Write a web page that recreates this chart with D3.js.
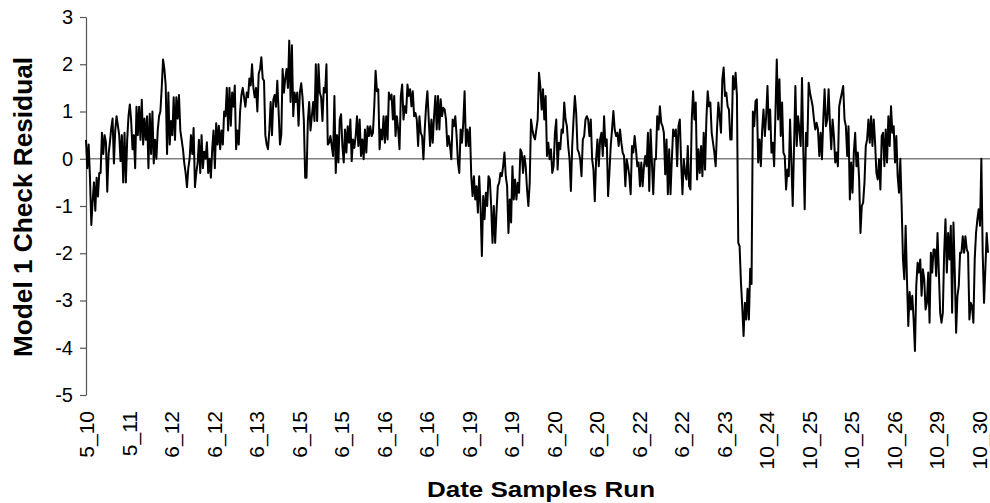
<!DOCTYPE html>
<html>
<head>
<meta charset="utf-8">
<script src="https://cdn.jsdelivr.net/npm/d3@7"></script>
<style>
  html, body { margin: 0; padding: 0; background: #fff; }
  svg { display: block; font-family: "Liberation Sans", Arial, sans-serif; }
</style>
</head>
<body>
<svg id="chart" width="990" height="503"></svg>
<script>
// ---- Data ----
const residuals = [
  // 5_10 .. 6_15
  0.4, -0.2, 0.3, -0.4, -1.4, -0.9, -0.5, -1.1, -0.4, -0.8,
  -0.3, -0.3, 0.55, 0.1, 0.5, 0.35, -0.7, 0.1, 0.35, 0.65,
  0.85, -0.1, 0.6, 0.9, 0.7, 0.5, -0.05, 0.5, -0.5, 0.55,
  -0.5, 0.4, 0.9, 1.15, 0.8, 0.2, 0.5, -0.2, 1.1, 0.5,
  1.1, 0.4, 1.25, 0.3, 0.85, 0.4, 0.9, -0.2, 0.95, 0.1,
  1.0, -0.1, 0.4, 0.0, 0.6, 0.9, 1.0, 1.5, 2.1, 1.9,
  1.55, 0.1, 1.4, 0.3, 0.8, 0.5, 1.3, 0.4, 1.3, 0.85,
  1.35, 0.6, 0.4, 0.2, -0.1, -0.3, -0.6, -0.2, 0.0, 0.5,
  0.1, 0.65, -0.6, -0.3, -0.1, 0.4, -0.3, 0.5, -0.2, 0.15,
  0.0, 0.35, -0.3, 0.0, -0.4, 0.2, 0.6, -0.2, 0.75, 0.3,
  0.7, 0.2, 0.6, 0.3, 1.0, 0.9, 1.5, 0.6, 1.5, 0.7,
  1.4, 1.1, 1.55, 0.2, 0.6, 0.3, 1.0, 1.35, 1.5, 1.3,
  1.1, 1.4, 1.3, 1.7, 1.55, 2.0, 1.5, 1.3, 1.5, 1.0,
  1.8, 1.9, 2.15, 1.7, 1.65, 0.5, 0.3, 0.2, 0.6, 1.2,
  0.5, 1.25, 1.35, 1.1, 1.65, 1.0, 0.3, 0.5, 1.9, 1.4,
  1.7, 1.9, 1.5, 2.5, 1.2, 2.4, 0.9, 1.4, 1.2, 1.4,
  0.7, 1.4, 1.6, 1.3, 0.8, -0.4, -0.4, 0.8, 1.2, 0.6,
  0.9, 1.2, 0.8, 2.0, 0.8, 2.0, 1.4, 1.3, 0.8, 1.5,
  1.4, 2.0, 0.3,
  // 6_15 .. 6_20
  0.34, 0.48, 0.27, 0.06, 1.33, -0.3, 0.5, -0.08, 0.83, 0.94,
  0.27, -0.08, 0.62, 0.13, 0.69, 0.34, 0.83, -0.05, 0.41, 0.23,
  0.48, 0.9, 0.27, 0.83, 0.06, 0.41, -0.01, 0.62, 0.13, 0.69,
  0.48, 0.69, 0.48, 0.55, 1.11, 1.86, 1.43, 1.47, 0.2, 0.62,
  0.41, 0.9, 0.34, 0.9, 0.41, 1.4, 1.26, 1.36, 0.83, 1.33,
  0.48, 0.9, 0.62, 0.2, 1.33, 1.57, 0.83, 1.11, 0.97, 1.57,
  1.33, 1.47, 1.11, 1.43, 0.9, 0.97, 0.83, 0.27, 0.9, 0.55,
  0.48, -0.01, 0.62, 1.11, 1.43, 0.83, 0.27, 0.83, 0.34, 0.9,
  1.33, 0.62, 1.33, 0.62, 1.26, 0.9, 1.08, 1.04, 0.83, 0.27,
  0.48, 0.27, -0.01, 0.83, 0.69, 0.9, 0.48, -0.08, -0.3, 0.62,
  0.34, 0.76, 1.43, 0.27, 0.62, 0.27, 0.66, -0.37, -0.79, -0.37,
  -0.86, -0.58, -1.14, -0.37, -1.0, -2.06, -0.79, -1.28, -0.72, -1.0,
  -0.37, -0.44, -1.0, -1.78, -1.0, -1.78, -1.14, -0.58, -0.51, -0.3,
  -0.37, -0.16, 0.13, -0.37, -0.58, -1.57, -0.86, -1.35, -0.16, -0.86,
  -0.44, -0.86, -0.51, -0.72, 0.2, 0.13, -0.3, 0.06, -0.16, -0.65,
  -1.0, -0.51, 0.83, 0.62, 0.48,
  // 6_20 .. 6_23
  0.41, 0.62, 0.83, 1.82, 1.54, 1.04, 1.47, 0.83, 1.33, 0.06,
  0.34, -0.01, 0.2, -0.3, -0.16, 0.55, 0.83, -0.23, 0.34, 0.2,
  0.62, 0.55, 1.19, 0.83, 0.69, 0.27, -0.01, -0.68, 0.27,
  0.83, 1.33, 0.97, 0.2, 0.13, -0.01, -0.37, 0.41, 0.48,
  0.83, 0.9, 0.83, 0.48, 0.83, -0.01, -0.23, -0.9, -0.01, 0.41,
  -0.16, 0.41, 0.55, 0.06, 0.9, 0.27, 0.41, -0.79, -0.3, 0.27,
  0.62, 1.01, 0.62, 0.48, 0.55, 0.27, 0.62, 0.34,
  0.13, 0.06, -0.58, -0.01, -0.16, -0.37, -0.75, 0.27, 0.13, 0.48,
  0.2, -0.16, -0.08, -0.58, -0.08, -0.58, -0.16, 0.06, -0.16,
  0.55, -0.68, 0.62, -0.08, -0.75, -0.01, -0.01, 0.9, 0.62, 1.11,
  0.76, 0.69, 0.55, -0.33, 0.41, -0.75, 0.2, -0.75, -0.01, 0.62,
  0.48, 0.62, -0.16, 0.69, 0.83, -0.08, -0.75, -0.01, -0.3,
  -0.44, 0.27, -0.58, -0.65, 0.83, 1.43, 0.83, 1.19, -0.44, 0.2,
  -0.3, 0.27, -0.37, 0.55, -0.23, 0.83, 1.43, 1.11, 1.19, 0.55,
  0.34, 0.13, -0.16, 0.62, 1.19, 0.9, 0.55, 1.68, 1.93, 1.33,
  1.4, 1.11, 1.04, 0.41, 0.41, 1.75, 1.47, 1.82, 1.33,
  // dip at 6_23
  -1.78, -1.85, -2.6, -3.13, -3.75, -3.05, -3.4, -2.75, -3.4, -2.33, -2.65,
  // 10_24 .. 10_26
  1.0, 0.69, 1.22, 1.26, -0.08, 0.41, -0.16, 0.62,
  1.04, 0.48, 0.9, 1.54, 0.62, 1.04, 0.13, 0.34,
  -0.16, 0.97, 2.1, 0.83, 1.68, 0.48, 1.19, 0.13,
  0.06, -0.65, -0.23, -0.37, 0.83, -0.08, -1.0, 0.27,
  1.54, 0.27, 0.9, 0.62, 0.27, 1.71, 0.13, -1.07,
  0.55, 0.27, 1.61, 1.4, 1.26, 1.11, 0.83, 0.62,
  0.76, 0.62, 0.06, 0.55, -0.01, 0.83, 1.47, 0.69,
  0.83, 1.47, 0.76, 0.2, 0.83, 0.48, -0.08, 0.13,
  -0.16, 1.11, 1.26, 1.4, 1.54, 0.83, 0.69, 0.06,
  0.69, -0.86, -0.08, -0.72, 0.13, 0.55, -0.16, 0.13,
  -0.44, -1.57, -1.0, -0.93, -0.51, 0.27, 0.41, 0.83,
  0.34, 0.9, 0.27, 0.83, 0.34, -0.3, -0.44, -0.01,
  -0.65, 0.48, 0.55, -0.16, 0.62, -0.08, 0.9, 0.27,
  1.11, 0.55, 0.69, -0.08, 0.48, -0.37, -0.72, 0.0,
  -1.0,
  // 10_26 .. 10_30
  -2.13, -2.55, -1.42, -2.55, -3.54, -2.82, -3.19, -2.9, -3.4,
  -4.07, -2.69, -2.2, -2.41, -2.13, -2.9, -2.34, -2.55, -3.19,
  -3.05, -2.41, -3.47, -1.99, -2.41, -1.92, -1.92, -2.48, -1.57,
  -2.41, -3.26, -3.47, -3.26, -1.99, -1.28, -2.41, -1.57, -2.13,
  -1.42, -3.26, -1.35, -2.41, -3.68, -2.9, -2.69, -1.99, -1.99,
  -1.64, -1.99, -1.64, -1.92, -1.99, -3.4, -3.05, -3.12, -3.47,
  -2.13, -1.57, -1.28, -1.07, -1.42, 0.0, -1.99, -3.05, -2.34,
  -1.57, -1.99
];

const dateLabels = ["5_10","5_11","6_12","6_12","6_13","6_15","6_15","6_16","6_16",
  "6_19","6_19","6_20","6_20","6_22","6_22","6_23","10_24","10_25","10_25",
  "10_26","10_29","10_30"];
const labelEvery = 32;
const yTicks = [-5, -4, -3, -2, -1, 0, 1, 2, 3];

const xTitle = "Date Samples Run";
const yTitle = "Model 1 Check Residual";

// ---- Layout ----
const svg = d3.select("#chart");
const plotLeft = 86, plotRight = 988, plotTop = 17, plotBottom = 395;

const x = d3.scaleLinear().domain([0, residuals.length - 1]).range([plotLeft, plotRight]);
const y = d3.scaleLinear().domain([-5, 3]).range([plotBottom, plotTop]);

// zero line (category axis crossing at 0)
svg.append("line")
  .attr("x1", plotLeft).attr("x2", 990)
  .attr("y1", y(0)).attr("y2", y(0))
  .attr("stroke", "#808080").attr("stroke-width", 1.3);

// y axis
const yAxis = svg.append("g")
  .attr("transform", `translate(${plotLeft},0)`)
  .call(d3.axisLeft(y).tickValues(yTicks).tickSize(6).tickSizeOuter(0).tickPadding(7)
    .tickFormat(d => String(d)));
yAxis.select(".domain").attr("stroke", "#555").attr("stroke-width", 1.2);
yAxis.selectAll(".tick line").attr("stroke", "#555").attr("stroke-width", 1.2);
yAxis.selectAll(".tick text")
  .attr("fill", "#000")
  .style("font-size", "20px")
  .style("font-family", "'Liberation Sans', Arial, sans-serif");

// x axis labels (at bottom, rotated)
const labelIdx = dateLabels.map((d, i) => i * labelEvery);
const xAxis = svg.append("g")
  .attr("transform", `translate(0,${plotBottom})`)
  .call(d3.axisBottom(x).tickValues(labelIdx).tickSize(0)
    .tickFormat((d, i) => dateLabels[i]));
xAxis.select(".domain").remove();
xAxis.selectAll(".tick text")
  .attr("fill", "#000")
  .attr("transform", "rotate(-90)")
  .attr("text-anchor", "end")
  .attr("x", -16)
  .attr("y", 0)
  .attr("dy", "0.36em")
  .style("font-size", "21px")
  .style("font-family", "'Liberation Sans', Arial, sans-serif");

// data line
const line = d3.line()
  .x((d, i) => x(i))
  .y(d => y(d));
svg.append("path")
  .datum(residuals)
  .attr("d", line)
  .attr("fill", "none")
  .attr("stroke", "#000")
  .attr("stroke-width", 2)
  .attr("stroke-linejoin", "round");

// titles
svg.append("text")
  .attr("x", 541).attr("y", 497)
  .attr("text-anchor", "middle")
  .attr("textLength", 228).attr("lengthAdjust", "spacingAndGlyphs")
  .style("font-size", "22px").style("font-weight", "bold")
  .text(xTitle);

svg.append("text")
  .attr("transform", `translate(32,207) rotate(-90)`)
  .attr("text-anchor", "middle")
  .attr("textLength", 300).attr("lengthAdjust", "spacingAndGlyphs")
  .style("font-size", "25px").style("font-weight", "bold")
  .text(yTitle);
</script>
</body>
</html>
